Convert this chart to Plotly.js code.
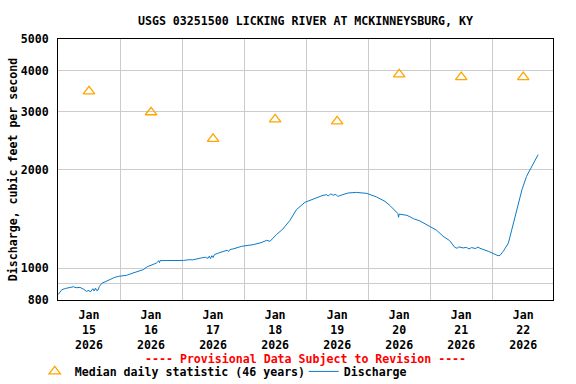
<!DOCTYPE html>
<html>
<head>
<meta charset="utf-8">
<script src="https://cdn.plot.ly/plotly-3.0.1.min.js"></script>
<style>html,body{margin:0;padding:0;background:#fff;}#chart{width:576px;height:384px;}</style>
</head>
<body>
<div id="chart"></div>
<script>
// Median daily statistic (46 years), plotted at noon of each day
const medianDates = ['2026-01-15 12:00','2026-01-16 12:00','2026-01-17 12:00','2026-01-18 12:00',
                     '2026-01-19 12:00','2026-01-20 12:00','2026-01-21 12:00','2026-01-22 12:00'];
const medianValues = [3460, 2990, 2480, 2845, 2805, 3900, 3825, 3825];

// Discharge (cfs)
const dischargeTimes = [
 '2026-01-15 00:00','2026-01-15 00:45','2026-01-15 01:30','2026-01-15 03:00','2026-01-15 04:30',
 '2026-01-15 06:00','2026-01-15 07:00','2026-01-15 08:30','2026-01-15 10:00','2026-01-15 11:00',
 '2026-01-15 12:00','2026-01-15 12:30','2026-01-15 13:30','2026-01-15 14:00','2026-01-15 14:30',
 '2026-01-15 15:00','2026-01-15 15:30','2026-01-15 16:00','2026-01-15 17:00','2026-01-15 18:30',
 '2026-01-15 20:00','2026-01-15 22:00','2026-01-15 23:30','2026-01-16 02:30','2026-01-16 05:00',
 '2026-01-16 07:00','2026-01-16 09:00','2026-01-16 10:30','2026-01-16 11:30','2026-01-16 12:45',
 '2026-01-16 14:00','2026-01-16 15:00','2026-01-16 15:15','2026-01-16 15:30','2026-01-17 00:30',
 '2026-01-17 03:00','2026-01-17 04:00','2026-01-17 07:30','2026-01-17 09:00','2026-01-17 10:00',
 '2026-01-17 10:30','2026-01-17 11:00','2026-01-17 11:30','2026-01-17 12:00','2026-01-17 12:30',
 '2026-01-17 14:00','2026-01-17 16:00','2026-01-17 17:30','2026-01-17 18:00','2026-01-17 18:30',
 '2026-01-17 19:45','2026-01-17 23:00','2026-01-18 03:30','2026-01-18 06:30','2026-01-18 08:45',
 '2026-01-18 10:00','2026-01-18 12:30','2026-01-18 15:00','2026-01-18 17:45','2026-01-18 20:15',
 '2026-01-18 23:30','2026-01-19 02:45','2026-01-19 05:00','2026-01-19 06:30','2026-01-19 08:00',
 '2026-01-19 08:30','2026-01-19 09:30','2026-01-19 10:30','2026-01-19 11:30','2026-01-19 12:15',
 '2026-01-19 13:00','2026-01-19 16:15','2026-01-19 19:30','2026-01-19 23:30','2026-01-20 03:15',
 '2026-01-20 06:30','2026-01-20 08:30','2026-01-20 10:15','2026-01-20 11:30','2026-01-20 11:45',
 '2026-01-20 12:00','2026-01-20 15:00','2026-01-20 17:30','2026-01-20 20:00','2026-01-21 00:00',
 '2026-01-21 02:30','2026-01-21 05:00','2026-01-21 07:30','2026-01-21 09:30','2026-01-21 10:30',
 '2026-01-21 11:00','2026-01-21 12:45','2026-01-21 14:00','2026-01-21 15:00','2026-01-21 16:00',
 '2026-01-21 17:30','2026-01-21 18:30','2026-01-21 19:15','2026-01-21 22:30','2026-01-22 00:30',
 '2026-01-22 02:15','2026-01-22 03:00','2026-01-22 04:15','2026-01-22 06:15','2026-01-22 07:30',
 '2026-01-22 09:30','2026-01-22 11:30','2026-01-22 13:15','2026-01-22 15:15','2026-01-22 17:45'
];
const dischargeValues = [
 831, 845, 860, 868, 874,
 878, 872, 874, 862, 850,
 856, 846, 866, 852, 870,
 854, 858, 880, 900, 912,
 923, 938, 945, 951, 967,
 978, 990, 1010, 1018, 1030,
 1036, 1054, 1040, 1055, 1056,
 1062, 1060, 1075, 1080, 1072,
 1088, 1070, 1092, 1078, 1100,
 1112, 1126, 1135, 1124, 1140,
 1145, 1166, 1180, 1196, 1216,
 1208, 1266, 1317, 1400, 1509,
 1588, 1626, 1650, 1668, 1676,
 1660, 1685, 1670, 1680, 1655,
 1665, 1696, 1703, 1691, 1649,
 1599, 1551, 1498, 1467, 1430,
 1462, 1450, 1416, 1394, 1342,
 1305, 1251, 1214, 1158, 1150,
 1162, 1153, 1158, 1145, 1156,
 1148, 1160, 1150, 1126, 1108,
 1092, 1094, 1126, 1194, 1311,
 1509, 1736, 1906, 2045, 2220
];

// Axis ticks
const dayLabelTimes = medianDates;
const dayLabels = ['Jan<br>15<br>2026','Jan<br>16<br>2026','Jan<br>17<br>2026','Jan<br>18<br>2026',
                   'Jan<br>19<br>2026','Jan<br>20<br>2026','Jan<br>21<br>2026','Jan<br>22<br>2026'];
const dayGridTimes = ['2026-01-16','2026-01-17','2026-01-18','2026-01-19','2026-01-20','2026-01-21','2026-01-22'];
const yTickVals = [800, 900, 1000, 2000, 3000, 4000, 5000];
const yTickText = ['800', '', '1000', '2000', '3000', '4000', '5000'];

const FONT = '"DejaVu Sans Mono", "Liberation Mono", monospace';
const baseFont = {family: FONT, size: 11.6, color: '#000', weight: 700};

const traces = [
  {
    x: medianDates, y: medianValues, type: 'scatter', mode: 'markers',
    name: 'Median daily statistic (46 years)',
    marker: {symbol: 'triangle-up-open', size: 10, color: '#FFA500', line: {width: 1.3, color: '#FFA500'}},
    hoverinfo: 'x+y'
  },
  {
    x: dischargeTimes, y: dischargeValues, type: 'scatter', mode: 'lines',
    name: 'Discharge',
    line: {color: '#0A7CC8', width: 1}
  }
];

const layout = {
  width: 576, height: 384,
  margin: {l: 58, r: 23, t: 39, b: 84, pad: 0, autoexpand: false},
  paper_bgcolor: '#fff', plot_bgcolor: '#fff',
  font: baseFont,
  title: {
    text: 'USGS 03251500 LICKING RIVER AT MCKINNEYSBURG, KY',
    font: baseFont,
    xref: 'paper', x: 0.5, xanchor: 'center',
    yref: 'container', y: 1 - 20.5/384, yanchor: 'middle'
  },
  xaxis: {
    type: 'date', automargin: false,
    range: ['2026-01-15 00:00', '2026-01-22 23:30'],
    tickmode: 'array', tickvals: dayLabelTimes, ticktext: dayLabels,
    showgrid: false, ticks: '', ticklabelstandoff: 4,
    tickfont: baseFont,
    showline: true, mirror: true, linecolor: '#000', linewidth: 1,
    zeroline: false,
    minor: {tickmode: 'array', tickvals: dayGridTimes, showgrid: true, gridcolor: '#CCCCCC', gridwidth: 1, ticks: ''}
  },
  yaxis: {
    type: 'log', automargin: false,
    range: [Math.log10(800), Math.log10(5000)],
    tickmode: 'array', tickvals: yTickVals, ticktext: yTickText,
    showgrid: true, gridcolor: '#CCCCCC', gridwidth: 1,
    ticks: '', ticklabelstandoff: 6,
    tickfont: baseFont,
    showline: true, mirror: true, linecolor: '#000', linewidth: 1,
    zeroline: false,
    title: {text: 'Discharge, cubic feet per second', font: baseFont, standoff: 0}
  },
  showlegend: true,
  legend: {
    orientation: 'h', x: -0.047, xanchor: 'left', y: -0.218, yanchor: 'top',
    font: baseFont, bgcolor: 'rgba(0,0,0,0)', borderwidth: 0,
    traceorder: 'normal', itemclick: false, itemdoubleclick: false,
    tracegroupgap: 0, entrywidthmode: 'pixels', entrywidth: 224
  },
  annotations: [
    {
      text: '---- Provisional Data Subject to Revision ----',
      xref: 'paper', yref: 'paper', x: 0.5, y: (300 - 359) / 261,
      xanchor: 'center', yanchor: 'middle', showarrow: false,
      font: {family: FONT, size: 11.6, color: '#FF0000', weight: 700}
    }
  ]
};

Plotly.newPlot('chart', traces, layout, {staticPlot: true, displayModeBar: false});
</script>
</body>
</html>
